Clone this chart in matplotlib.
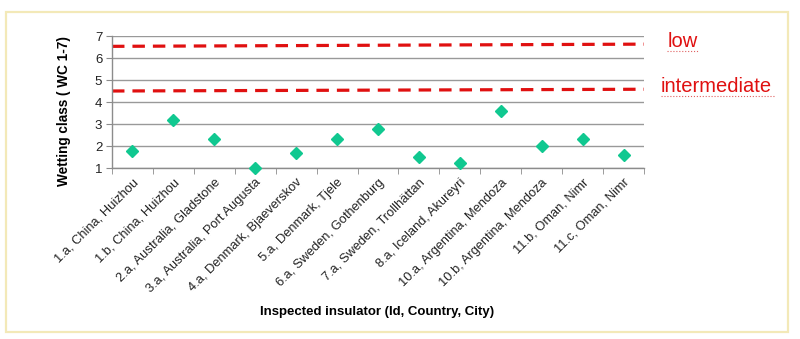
import numpy as np
import matplotlib.pyplot as plt
from matplotlib.patches import Rectangle
from matplotlib.lines import Line2D

plt.rcParams['font.family'] = ['Liberation Sans', 'DejaVu Sans']

# inspected insulators and their wetting class
sites = ["1.a, China, Huizhou", "1.b, China, Huizhou",
         "2.a, Australia, Gladstone", "3.a, Australia, Port Augusta",
         "4.a, Denmark, Bjaeverskov", "5.a, Denmark, Tjele",
         "6.a, Sweden, Gothenburg", "7.a, Sweden, Trollhättan",
         "8.a, Iceland, Akureyri", "10.a, Argentina, Mendoza",
         "10.b, Argentina, Mendoza", "11.b, Oman, Nimr", "11.c, Oman, Nimr"]
wetting = [1.77, 3.18, 2.30, 1.00, 1.67, 2.30, 2.77, 1.50, 1.21, 3.57,
           2.01, 2.30, 1.59]

# class limits (start, end of line)
low_limit = [6.53, 6.63]
inter_limit = [4.50, 4.58]
yticks = [1, 2, 3, 4, 5, 6, 7]

fig = plt.figure(figsize=(8, 3.39), dpi=100)
ax = fig.add_axes([0.14, 0.5044, 0.665, 0.3894])

x = np.arange(len(sites))
ax.set_xlim(-0.5, len(sites) - 0.5)
ax.set_ylim(1, 7)

# horizontal grid
for v in yticks:
    ax.axhline(v, color='#999999', lw=1.0, zorder=1)

# red dashed class limits
for lim in (low_limit, inter_limit):
    ln, = ax.plot([-0.5, len(sites) - 0.5], lim, color='#e01010', lw=2.3,
                  zorder=2, solid_capstyle='butt', dash_capstyle='butt')
    ln.set_dashes((3.9, 2.5))

ax.plot(x, wetting, linestyle='none', marker='D', markersize=6.2,
        color='#10c890', markeredgecolor='#10c890', zorder=3, clip_on=False)

for s in ['top', 'right']:
    ax.spines[s].set_visible(False)
for s in ['left', 'bottom']:
    ax.spines[s].set_color('#8c8c8c')
    ax.spines[s].set_linewidth(1.0)

ax.set_yticks(yticks)
ax.set_yticklabels([str(v) for v in yticks], fontsize=9.5, color='#222222')
ax.tick_params(axis='y', length=4, color='#8c8c8c', pad=3)

ax.set_xticks(x)
ax.set_xticklabels(sites, rotation=45, ha='right', rotation_mode='anchor',
                   fontsize=9.3, color='#222222')
ax.tick_params(axis='x', which='major', length=0, pad=6)
ax.set_xticks(np.arange(-0.5, len(sites)), minor=True)
ax.tick_params(axis='x', which='minor', length=4, color='#8c8c8c')

ax.set_ylabel('Wetting class ( WC 1-7)', fontsize=9.8, fontweight='bold')
ax.yaxis.set_label_coords(-0.078, 0.43)
fig.text(0.471, 0.08, 'Inspected insulator (Id, Country, City)',
         fontsize=9.5, fontweight='bold', ha='center', va='center')

# class names at the right
fig.text(0.834, 0.862, 'low', color='#e01010', fontsize=14.5,
         ha='left', va='baseline')
fig.text(0.826, 0.728, 'intermediate', color='#e01010', fontsize=14.5,
         ha='left', va='baseline')
fig.add_artist(Line2D([0.834, 0.874], [0.851, 0.851], color='#e06060',
                      lw=0.8, ls=':', transform=fig.transFigure))
fig.add_artist(Line2D([0.826, 0.969], [0.717, 0.717], color='#e06060',
                      lw=0.8, ls=':', transform=fig.transFigure))

# frame around the chart
fig.add_artist(Rectangle((0.007, 0.02), 0.978, 0.945, fill=False,
                         edgecolor='#f3e9b8', lw=1.6,
                         transform=fig.transFigure))

fig.savefig('out.png', dpi=100)
